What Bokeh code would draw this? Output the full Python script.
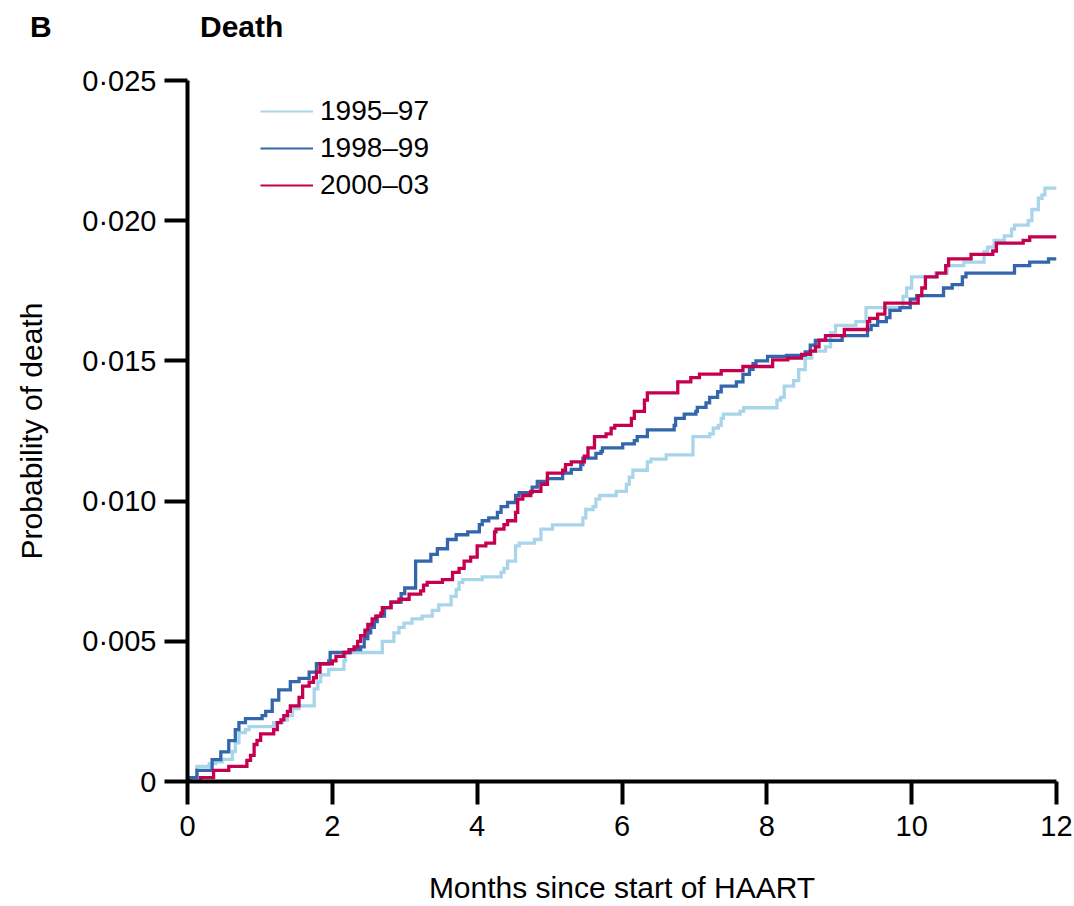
import numpy as np
from bokeh.plotting import figure
from bokeh.layouts import column
from bokeh.models import (Range1d, FixedTicker, CustomJSTickFormatter, Legend,
                          LegendItem, ColumnDataSource, Div)
from bokeh.embed import file_html
from bokeh.resources import INLINE

# ---------------- data ----------------
panel_letter = "B"
panel_title = "Death"
series_names = ["1995\u201397", "1998\u201399", "2000\u201303"]
series_colors = ["#a8d5ea", "#3366ab", "#c4004f"]

months_9597 = [0, 0.03, 0.13, 0.30, 0.39, 0.48, 0.62, 0.66, 0.71, 0.80, 0.85, 1.19, 1.31, 1.38, 1.45,
               1.54, 1.75, 1.80, 1.84, 1.95, 2.16, 2.18, 2.69, 2.85, 2.92, 2.99, 3.10, 3.24, 3.38, 3.47,
               3.64, 3.71, 3.75, 3.80, 4.07, 4.33, 4.37, 4.42, 4.53, 4.58, 4.79, 4.88, 5.04, 5.46, 5.50,
               5.60, 5.64, 5.69, 5.92, 6.06, 6.10, 6.15, 6.35, 6.40, 6.61, 6.98, 7.21, 7.26, 7.33, 7.37,
               7.40, 7.63, 7.68, 8.14, 8.19, 8.24, 8.37, 8.44, 8.53, 8.62, 8.81, 8.88, 8.95, 9.23, 9.37,
               9.88, 9.93, 10.00, 10.33, 10.49, 10.72, 11.00, 11.05, 11.14, 11.28, 11.38, 11.42, 11.61,
               11.66, 11.75, 11.80, 11.84, 12.0]
prob_9597 = [0, 0.00014, 0.00054, 0.00064, 0.00070, 0.00079, 0.00107, 0.00138, 0.00174, 0.00185, 0.00196,
             0.0021, 0.0022, 0.00235, 0.0026, 0.0027, 0.0033, 0.00355, 0.0038, 0.0040, 0.0043, 0.0046,
             0.0050, 0.0053, 0.0055, 0.00565, 0.0058, 0.0059, 0.0061, 0.0063, 0.0066, 0.00685, 0.0071,
             0.0072, 0.0073, 0.00746, 0.0076, 0.00786, 0.0084, 0.0085, 0.00863, 0.0090, 0.00915, 0.0094,
             0.0097, 0.0098, 0.01007, 0.0102, 0.01035, 0.0106, 0.01085, 0.0111, 0.0114, 0.0115, 0.01165,
             0.0123, 0.0124, 0.0126, 0.0127, 0.01295, 0.0131, 0.0132, 0.01333, 0.0136, 0.0137, 0.0141,
             0.0143, 0.01469, 0.0151, 0.01535, 0.0155, 0.0160, 0.01627, 0.0164, 0.0169, 0.0173, 0.0176,
             0.0180, 0.01813, 0.0184, 0.01852, 0.0189, 0.01906, 0.0193, 0.01946, 0.0197, 0.01984, 0.0200,
             0.0204, 0.0208, 0.02092, 0.02116, 0.02116]

months_9899 = [0, 0.03, 0.13, 0.34, 0.46, 0.57, 0.66, 0.71, 0.80, 1.03, 1.08, 1.17, 1.26, 1.42, 1.54,
               1.68, 1.78, 1.95, 1.97, 2.25, 2.39, 2.44, 2.49, 2.53, 2.58, 2.62, 2.72, 2.81, 2.95, 3.00,
               3.15, 3.36, 3.45, 3.59, 3.71, 3.87, 4.03, 4.07, 4.16, 4.28, 4.33, 4.42, 4.53, 4.58, 4.76,
               4.83, 4.97, 5.18, 5.30, 5.43, 5.46, 5.64, 5.71, 5.73, 6.01, 6.17, 6.21, 6.35, 6.72, 6.74,
               6.86, 7.02, 7.04, 7.16, 7.21, 7.32, 7.37, 7.58, 7.67, 7.76, 7.81, 7.85, 8.01, 8.27, 8.53,
               8.60, 8.67, 9.04, 9.39, 9.44, 9.53, 9.65, 9.70, 9.84, 9.98, 10.07, 10.44, 10.56, 10.70,
               10.75, 11.42, 11.63, 11.89, 12.0]
prob_9899 = [0, 0.00014, 0.0004, 0.00078, 0.00106, 0.00146, 0.00185, 0.0021, 0.00224, 0.00235, 0.0025,
             0.0029, 0.00327, 0.00356, 0.00368, 0.0039, 0.0042, 0.0043, 0.0046, 0.0047, 0.0048, 0.0051,
             0.0053, 0.0055, 0.0057, 0.0059, 0.0062, 0.0064, 0.0067, 0.0069, 0.00786, 0.0081, 0.0083,
             0.00863, 0.0088, 0.0089, 0.00916, 0.0093, 0.0094, 0.0096, 0.0098, 0.00995, 0.0102, 0.0103,
             0.0105, 0.0107, 0.0108, 0.0110, 0.01113, 0.0113, 0.01153, 0.0117, 0.01177, 0.0119, 0.01204,
             0.01216, 0.0123, 0.01254, 0.0127, 0.01295, 0.0131, 0.0132, 0.01334, 0.0135, 0.0137, 0.0139,
             0.0141, 0.01425, 0.01452, 0.0147, 0.0149, 0.0150, 0.01516, 0.0152, 0.01532, 0.01556, 0.01573,
             0.0159, 0.01612, 0.01627, 0.0164, 0.01654, 0.0168, 0.0169, 0.0172, 0.01733, 0.0176, 0.01772,
             0.0180, 0.01813, 0.0184, 0.01852, 0.01864, 0.01864]

months_0003 = [0, 0.18, 0.36, 0.57, 0.82, 0.87, 0.92, 0.96, 1.01, 1.19, 1.24, 1.29, 1.33, 1.38, 1.42,
               1.54, 1.59, 1.68, 1.74, 1.78, 1.83, 2.00, 2.05, 2.16, 2.23, 2.30, 2.35, 2.39, 2.45, 2.49,
               2.55, 2.60, 2.67, 2.69, 2.81, 2.92, 3.06, 3.22, 3.26, 3.31, 3.52, 3.66, 3.75, 3.82, 3.91,
               4.00, 4.12, 4.24, 4.26, 4.37, 4.42, 4.53, 4.56, 4.63, 4.74, 4.88, 4.97, 5.18, 5.22, 5.30,
               5.48, 5.53, 5.62, 5.78, 5.85, 5.90, 6.13, 6.17, 6.31, 6.35, 6.77, 6.95, 7.07, 7.37, 7.67,
               8.08, 8.29, 8.48, 8.60, 8.67, 8.72, 8.81, 9.07, 9.39, 9.42, 9.53, 9.63, 10.09, 10.14, 10.19,
               10.35, 10.47, 10.51, 10.82, 11.12, 11.17, 11.54, 11.63, 12.0]
prob_0003 = [0, 0.00014, 0.0004, 0.00054, 0.00075, 0.00093, 0.00132, 0.00147, 0.0017, 0.00185, 0.0021,
             0.0022, 0.00235, 0.0025, 0.0027, 0.003, 0.0034, 0.00354, 0.0037, 0.0039, 0.0042, 0.0043,
             0.00446, 0.0046, 0.0047, 0.0048, 0.005, 0.0052, 0.0054, 0.0056, 0.0058, 0.0059, 0.006,
             0.0062, 0.0064, 0.0065, 0.00668, 0.0068, 0.0070, 0.0071, 0.0072, 0.00746, 0.0076, 0.00786,
             0.0080, 0.0084, 0.0085, 0.0089, 0.0090, 0.00916, 0.0093, 0.0096, 0.01007, 0.0102, 0.01035,
             0.0106, 0.0110, 0.0111, 0.0113, 0.0114, 0.0116, 0.0119, 0.0123, 0.0124, 0.0126, 0.0127,
             0.01295, 0.0132, 0.0136, 0.01386, 0.01425, 0.0144, 0.01453, 0.01465, 0.0148, 0.01504, 0.0151,
             0.01523, 0.01535, 0.0155, 0.01574, 0.0159, 0.01612, 0.0164, 0.01652, 0.01667, 0.01706,
             0.01733, 0.0176, 0.0180, 0.01813, 0.0184, 0.01864, 0.0188, 0.01892, 0.0192, 0.0193, 0.01942,
             0.01942]

x_ticks = [0, 2, 4, 6, 8, 10, 12]
y_ticks = [0, 0.005, 0.010, 0.015, 0.020, 0.025]

FONT = "Liberation Sans"
HEADER_H = 45

# ---------------- header (panel letter + title) ----------------
header = Div(
    text=(f'<div style="position:relative;width:1074px;height:{HEADER_H}px;'
          f'font-family:\'{FONT}\';font-weight:bold;font-size:30px;line-height:34px;color:black">'
          f'<span style="position:absolute;left:30px;top:10px">{panel_letter}</span>'
          f'<span style="position:absolute;left:200px;top:10px">{panel_title}</span></div>'),
    width=1074, height=HEADER_H, margin=(0, 0, 0, 0))

# ---------------- figure ----------------
p = figure(width=1074, height=906 - HEADER_H, output_backend="svg", toolbar_location=None,
           x_range=Range1d(0, 12), y_range=Range1d(0, 0.025),
           min_border_left=187, min_border_right=18, min_border_top=80 - HEADER_H,
           min_border_bottom=123, margin=(0, 0, 0, 0))
p.outline_line_color = None
p.xgrid.visible = False
p.ygrid.visible = False
p.background_fill_color = "white"
p.border_fill_color = "white"

for ax in (p.xaxis[0], p.yaxis[0]):
    ax.axis_line_width = 4
    ax.axis_line_color = "black"
    ax.major_tick_line_width = 4
    ax.major_tick_line_color = "black"
    ax.major_tick_in = 0
    ax.major_tick_out = 23
    ax.minor_tick_line_color = None
    ax.major_label_text_font = FONT
    ax.major_label_text_font_size = "29px"
    ax.major_label_text_color = "black"
    ax.axis_label_text_font = FONT
    ax.axis_label_text_font_size = "30px"
    ax.axis_label_text_font_style = "normal"
    ax.axis_label_text_color = "black"

p.xaxis.ticker = FixedTicker(ticks=x_ticks)
p.yaxis.ticker = FixedTicker(ticks=y_ticks)
p.yaxis.formatter = CustomJSTickFormatter(
    code="return tick == 0 ? '0' : tick.toFixed(3).replace('.', '\u00b7');")
p.xaxis.axis_label = "Months since start of HAART"
p.yaxis.axis_label = "Probability of death"
p.xaxis.major_label_standoff = 11
p.xaxis.axis_label_standoff = 32
p.yaxis.major_label_standoff = 8
p.yaxis.axis_label_standoff = 31

all_months = [months_9597, months_9899, months_0003]
all_probs = [prob_9597, prob_9899, prob_0003]

legend_items = []
for name, color, xs, ys in zip(series_names, series_colors, all_months, all_probs):
    src = ColumnDataSource(data=dict(month=xs, prob=ys))
    p.step("month", "prob", source=src, mode="after", line_color=color,
           line_width=3.3, line_join="miter")
    # thin line used only for the legend swatch
    swatch = p.line(x=np.array([np.nan]), y=np.array([np.nan]), line_color=color, line_width=2.2)
    legend_items.append(LegendItem(label=name, renderers=[swatch]))

legend = Legend(items=legend_items, location=(73, 580), orientation="vertical",
                glyph_width=53, glyph_height=30, label_height=30, label_standoff=7,
                spacing=5, padding=0, margin=0,
                label_text_font=FONT, label_text_font_size="28px", label_text_color="black",
                border_line_color=None, background_fill_alpha=0)
p.add_layout(legend, "center")

layout = column(header, p, spacing=0, margin=(0, 0, 0, 0))
open("out.html", "w").write(file_html(layout, INLINE))
